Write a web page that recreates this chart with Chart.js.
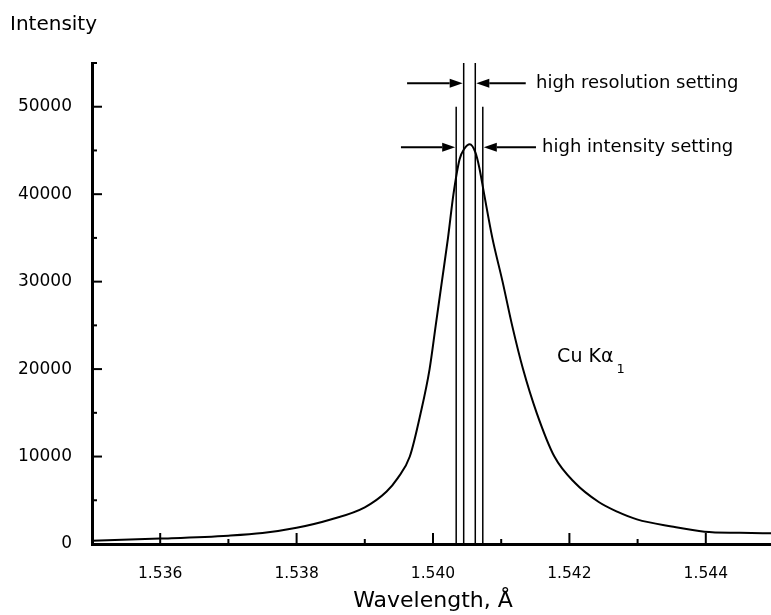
<!DOCTYPE html>
<html><head><meta charset="utf-8">
<script src="https://cdn.jsdelivr.net/npm/chart.js@4/dist/chart.umd.min.js"></script>
<style>
html,body{margin:0;padding:0;background:#fff;overflow:hidden;width:771px;height:615px;}
#wrap{width:775px;height:615px;position:relative;}
canvas{display:block;}
</style></head><body>
<div id="wrap"><canvas id="c" width="775" height="615"></canvas></div>
<script>
// ---- data ----
const wavelength = [1.5350, 1.5360, 1.5370, 1.5375, 1.5380, 1.5385, 1.5390, 1.53932, 1.53948,
  1.53966, 1.53982, 1.53995, 1.54004, 1.54013, 1.54022, 1.54030, 1.54039, 1.54046, 1.54054,
  1.54062, 1.54068, 1.54075, 1.54087, 1.54102, 1.54116, 1.54132, 1.54152, 1.54178, 1.54208,
  1.54243, 1.54270, 1.54299, 1.54350, 1.54398, 1.54450, 1.54500];
const intensity = [380, 620, 950, 1250, 1850, 2800, 4200, 6000, 7500,
  10000, 15000, 20000, 25000, 30000, 35000, 40000, 44000, 45200, 45700,
  44800, 43000, 40000, 35000, 30000, 25000, 20000, 15000, 10000, 7000,
  4800, 3700, 2820, 2000, 1410, 1280, 1220];
const hiResSlits = [1.54045, 1.54062];   // high resolution setting slit edges
const hiResTop = 55000;
const hiIntSlits = [1.54034, 1.54073];   // high intensity setting slit edges
const hiIntTop = 50000;
const xTickLabels = ['1.536', '1.538', '1.540', '1.542', '1.544'];
const yTickLabels = ['0', '10000', '20000', '30000', '40000', '50000'];
const xRange = [1.535, 1.545];
const yRange = [0, 55000];

// annotation anchors (data units)
const resNote = {text: 'high resolution setting', y: 52690, leftTail: 1.53962, rightTail: 1.54136, textX: 1.54151};
const intNote = {text: 'high intensity setting', y: 45370, leftTail: 1.53953, rightTail: 1.54151, textX: 1.54160};
const lineNote = {main: 'Cu K\u03b1', sub: '1', x: 1.54182, y: 20800};

const FONT = "'DejaVu Sans', sans-serif";
Chart.defaults.font.family = FONT;
Chart.defaults.color = '#000';

const slitSets = [];
hiResSlits.forEach(v => slitSets.push({type: 'line', data: [{x: v, y: 0}, {x: v, y: hiResTop}],
  borderColor: '#000', borderWidth: 1.5, pointRadius: 0, tension: 0}));
hiIntSlits.forEach(v => slitSets.push({type: 'line', data: [{x: v, y: 0}, {x: v, y: hiIntTop}],
  borderColor: '#000', borderWidth: 1.5, pointRadius: 0, tension: 0}));

function arrow(ctx, x0, x1, y) {
  const dir = Math.sign(x1 - x0);
  const L = 13, H = 4.5;
  ctx.beginPath(); ctx.moveTo(x0, y); ctx.lineTo(x1 - dir * L, y); ctx.stroke();
  ctx.beginPath(); ctx.moveTo(x1, y); ctx.lineTo(x1 - dir * L, y - H); ctx.lineTo(x1 - dir * L, y + H); ctx.closePath(); ctx.fill();
}

const decorations = {
  id: 'decorations',
  afterDatasetsDraw(chart) {
    const {ctx, scales: {x, y}, chartArea: a} = chart;
    ctx.save();
    ctx.strokeStyle = '#000'; ctx.fillStyle = '#000'; ctx.lineWidth = 2;
    // inward tick marks
    x.ticks.forEach(t => {
      const px = x.getPixelForValue(t.value);
      if (px <= a.left + 3) return;
      const major = xTickLabels.includes(t.value.toFixed(3));
      const len = major ? 11 : 5;
      ctx.beginPath(); ctx.moveTo(px, a.bottom); ctx.lineTo(px, a.bottom - len); ctx.stroke();
    });
    y.ticks.forEach(t => {
      const py = y.getPixelForValue(t.value);
      if (py >= a.bottom - 3) return;
      const major = yTickLabels.includes(String(Math.round(t.value)));
      const len = major ? 10 : 5;
      ctx.beginPath(); ctx.moveTo(a.left, py); ctx.lineTo(a.left + len, py); ctx.stroke();
    });
    // arrows and notes
    [[resNote, hiResSlits], [intNote, hiIntSlits]].forEach(([n, s]) => {
      const py = y.getPixelForValue(n.y);
      arrow(ctx, x.getPixelForValue(n.leftTail), x.getPixelForValue(s[0]) - 1, py);
      arrow(ctx, x.getPixelForValue(n.rightTail), x.getPixelForValue(s[1]) + 1, py);
      ctx.font = '18px ' + FONT; ctx.textAlign = 'left'; ctx.textBaseline = 'middle';
      ctx.fillText(n.text, x.getPixelForValue(n.textX), py);
    });
    ctx.textBaseline = 'alphabetic'; ctx.textAlign = 'left';
    const lx = x.getPixelForValue(lineNote.x), ly = y.getPixelForValue(lineNote.y);
    ctx.font = '19px ' + FONT;
    ctx.fillText(lineNote.main, lx, ly);
    const w = ctx.measureText(lineNote.main).width;
    ctx.font = '13px ' + FONT;
    ctx.fillText(lineNote.sub, lx + w + 3, ly + 11);
    // y axis name
    ctx.font = '20px ' + FONT;
    ctx.fillText('Intensity', 10, 30);
    ctx.restore();
  }
};

new Chart(document.getElementById('c'), {
  type: 'scatter',
  data: {
    datasets: [{
      data: wavelength.map((w, i) => ({x: w, y: intensity[i]})),
      showLine: true, borderColor: '#000', borderWidth: 2, pointRadius: 0,
      cubicInterpolationMode: 'monotone'
    }, ...slitSets]
  },
  options: {
    responsive: false, animation: false, devicePixelRatio: 1,
    layout: {padding: {top: 63, left: 0, right: 1, bottom: 0}},
    plugins: {legend: {display: false}, tooltip: {enabled: false}},
    scales: {
      x: {
        type: 'linear', min: xRange[0], max: xRange[1],
        grid: {display: false},
        border: {display: true, width: 3, color: '#000'},
        ticks: {stepSize: 0.001, autoSkip: false, maxRotation: 0, padding: 13,
          font: {size: 15.5},
          callback: v => { const s = v.toFixed(3); return xTickLabels.includes(s) ? s : ''; }},
        title: {display: true, text: 'Wavelength, \u00c5', font: {size: 22}, padding: {top: 0, bottom: 1}},
        afterFit: s => { s.height = 71; s.paddingLeft = 0; s.paddingRight = 0; }
      },
      y: {
        type: 'linear', min: yRange[0], max: yRange[1],
        grid: {display: false},
        border: {display: true, width: 3, color: '#000'},
        ticks: {stepSize: 5000, autoSkip: false, padding: 12, font: {size: 17},
          callback: v => { const s = String(Math.round(v)); return yTickLabels.includes(s) ? s : ''; }},
        afterFit: s => { s.width = 92; }
      }
    }
  },
  plugins: [decorations]
});
</script>
</body></html>
